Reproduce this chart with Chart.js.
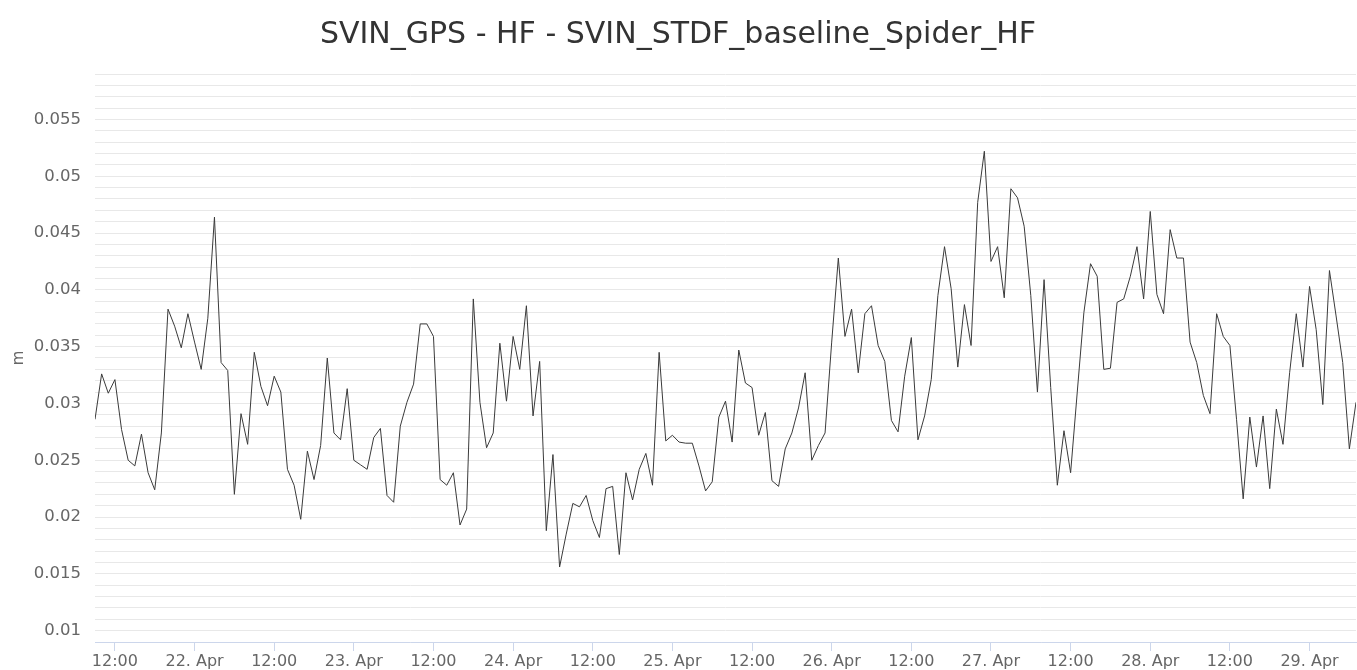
<!DOCTYPE html>
<html lang="en">
  <head>
    <meta charset="UTF-8" />
    <title>SVIN_GPS - HF - SVIN_STDF_baseline_Spider_HF</title>
    <style>
      html, body { margin: 0; padding: 0; background: #fff; }
      #wrap { width: 1357px; height: 670px; position: relative; }
    </style>
  </head>
  <body>
    <div id="wrap"><canvas id="hfChart"></canvas></div>

    <script src="https://cdn.jsdelivr.net/npm/chart.js"></script>
    <script>
      // hourly samples, first one at 21 Apr 09:00 (hours counted from 21 Apr 00:00)
      const startHour = 9;
      const hfValues = [
        0.0286, 0.0326, 0.0309, 0.0321, 0.0277, 0.0250, 0.0245, 0.0273, 0.0239, 0.0224,
        0.0274, 0.0383, 0.0368, 0.0349, 0.0379, 0.0354, 0.0330, 0.0375, 0.0464, 0.0336,
        0.0329, 0.0220, 0.0291, 0.0264, 0.0345, 0.0315, 0.0298, 0.0324, 0.0310, 0.0242,
        0.0228, 0.0198, 0.0258, 0.0233, 0.0263, 0.0340, 0.0274, 0.0268, 0.0313, 0.0250,
        0.0246, 0.0242, 0.0270, 0.0278, 0.0219, 0.0213, 0.0280, 0.0301, 0.0317, 0.0370,
        0.0370, 0.0359, 0.0233, 0.0228, 0.0239, 0.0193, 0.0207, 0.0392, 0.0301, 0.0261,
        0.0274, 0.0353, 0.0302, 0.0359, 0.0330, 0.0386, 0.0289, 0.0337, 0.0188, 0.0255,
        0.0156, 0.0185, 0.0212, 0.0209, 0.0219, 0.0197, 0.0182, 0.0225, 0.0227, 0.0167,
        0.0239, 0.0215, 0.0242, 0.0256, 0.0228, 0.0345, 0.0267, 0.0272, 0.0266, 0.0265,
        0.0265, 0.0245, 0.0223, 0.0231, 0.0288, 0.0302, 0.0266, 0.0347, 0.0318, 0.0314,
        0.0272, 0.0292, 0.0232, 0.0227, 0.0260, 0.0274, 0.0296, 0.0327, 0.0250, 0.0263,
        0.0274, 0.0354, 0.0428, 0.0359, 0.0383, 0.0327, 0.0379, 0.0386, 0.0351, 0.0337,
        0.0285, 0.0275, 0.0324, 0.0358, 0.0268, 0.0289, 0.0321, 0.0395, 0.0438, 0.0401,
        0.0332, 0.0387, 0.0351, 0.0477, 0.0522, 0.0425, 0.0438, 0.0393, 0.0489, 0.0481,
        0.0456, 0.0395, 0.0310, 0.0409, 0.0314, 0.0228, 0.0276, 0.0239, 0.0310, 0.0380,
        0.0423, 0.0412, 0.0330, 0.0331, 0.0389, 0.0392, 0.0412, 0.0438, 0.0392, 0.0469,
        0.0396, 0.0379, 0.0453, 0.0428, 0.0428, 0.0354, 0.0336, 0.0307, 0.0291, 0.0379,
        0.0359, 0.0351, 0.0286, 0.0216, 0.0288, 0.0244, 0.0289, 0.0225, 0.0295, 0.0264,
        0.0327, 0.0379, 0.0332, 0.0403, 0.0365, 0.0299, 0.0417, 0.0377, 0.0336, 0.0260,
        0.0301
      ];
      const xTickHours = [12, 24, 36, 48, 60, 72, 84, 96, 108, 120, 132, 144, 156, 168, 180, 192];
      const xTickLabels = [
        "12:00", "22. Apr", "12:00", "23. Apr", "12:00", "24. Apr", "12:00", "25. Apr",
        "12:00", "26. Apr", "12:00", "27. Apr", "12:00", "28. Apr", "12:00", "29. Apr"
      ];
      const yMin = 0.009;
      const yMax = 0.059;

      const points = hfValues.map((v, i) => ({ x: startHour + i, y: v }));

      Chart.defaults.font.family = "'DejaVu Sans', sans-serif";
      Chart.defaults.color = "#666666";

      const ctx = document.getElementById("hfChart").getContext("2d");
      new Chart(ctx, {
        type: "line",
        data: {
          datasets: [
            {
              label: "HF",
              data: points,
              borderColor: "#3a3a3a",
              borderWidth: 1,
              pointRadius: 0,
              tension: 0,
              fill: false,
            },
          ],
        },
        options: {
          responsive: true,
          maintainAspectRatio: false,
          animation: false,
          layout: { padding: { left: 0, right: 1, top: 0, bottom: 0 } },
          plugins: {
            legend: { display: false },
            tooltip: { enabled: false },
            title: {
              display: true,
              text: "SVIN_GPS - HF - SVIN_STDF_baseline_Spider_HF",
              color: "#333333",
              font: { size: 30, weight: "normal" },
              padding: { top: 17, bottom: 21 },
            },
          },
          scales: {
            x: {
              type: "linear",
              min: startHour,
              max: startHour + hfValues.length - 1,
              afterBuildTicks: (scale) => {
                scale.ticks = xTickHours.map((h) => ({ value: h }));
              },
              afterFit: (scale) => {
                scale.height = 28;
              },
              ticks: {
                autoSkip: false,
                maxRotation: 0,
                padding: 1,
                font: { size: 16 },
                color: "#666666",
                callback: (value) => {
                  const k = xTickHours.indexOf(value);
                  return k >= 0 ? xTickLabels[k] : "";
                },
              },
              grid: {
                drawOnChartArea: false,
                drawTicks: true,
                tickLength: 9,
                color: "#ccd6eb",
              },
              border: { display: true, color: "#ccd6eb", width: 1 },
            },
            y: {
              min: yMin,
              max: yMax,
              afterFit: (scale) => {
                scale.width = 95;
              },
              title: {
                display: true,
                text: "m",
                color: "#666666",
                font: { size: 15 },
                padding: { top: 10, bottom: 0 },
              },
              ticks: {
                stepSize: 0.001,
                autoSkip: false,
                padding: 14,
                font: { size: 16.5 },
                color: "#666666",
                callback: (value) => {
                  const m = Math.round(value * 1000);
                  return m % 5 === 0 ? String(m / 1000) : "";
                },
              },
              grid: {
                drawTicks: false,
                color: "#e8e8e8",
                lineWidth: 1,
              },
              border: { display: false },
            },
          },
        },
      });
    </script>
  </body>
</html>
